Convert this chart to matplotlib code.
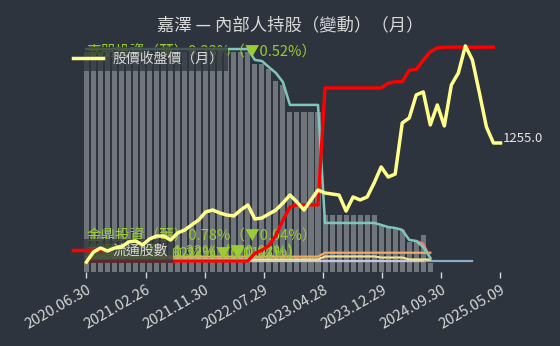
import numpy as np
import matplotlib
matplotlib.use('Agg')
import matplotlib.pyplot as plt
from matplotlib.lines import Line2D

plt.rcParams['font.family'] = ['Noto Sans CJK TC', 'DejaVu Sans']

# monthly data, index 0 = 2020.06 ... 59 = 2025.05
tick_labels = ['2020.06.30', '2021.02.26', '2021.11.30', '2022.07.29',
               '2023.04.28', '2023.12.29', '2024.09.30', '2025.05.09']

# 內部人持股合計 (%)
bar_pct = [25.25, 25.25, 25.25, 25.25, 25.25, 25.25, 25.25, 25.25, 25.25, 25.25,
           25.25, 25.25, 25.25, 25.25, 25.25, 25.25, 25.25, 25.25, 25.25, 25.25,
           25.25, 25.25, 25.25, 25.25, 24.69, 24.69, 24.46, 23.90, 23.72, 22.46,
           22.46, 22.46, 22.46, 22.46, 17.66, 17.66, 17.66, 17.66, 17.66, 17.66,
           17.66, 17.66, 17.14, 17.10, 17.05, 16.96, 16.41, 16.41, 16.72, 15.42]

# 個別內部人持股 (%)
holder_teal = [9.75, 9.75, 9.75, 9.75, 9.75, 9.75, 9.75, 9.75, 9.75, 9.75,
               9.75, 9.75, 9.75, 9.75, 9.75, 9.75, 9.75, 9.75, 9.75, 9.75,
               9.75, 9.75, 9.75, 9.75, 9.25, 9.20, 8.92, 8.65, 8.23, 7.18,
               7.18, 7.18, 7.18, 7.18, 1.75, 1.75, 1.75, 1.75, 1.75, 1.75,
               1.75, 1.75, 1.66, 1.56, 1.52, 1.43, 0.97, 0.92, 0.64, 0.14]
holder_orange = [0.20] * 34 + [0.38] * 16
holder_khaki = [0.07] * 34 + [0.21] * 8 + [0.16] * 4 + [0.07] * 4
holder_lavender = [0.01] * 49
holder_blue = [0.0] * 56
holder_salmon = [np.nan] * 47 + [0.92, 0.80, 0.14]

# 流通股數 (張)
shares = [110600] * 24 + [110700, 110740, 110800, 110930, 111130, 111300,
                          111330, 111330, 111330, 111330,
                          112850, 112850, 112850, 112850, 112850, 112850,
                          112850, 112850, 112850, 112910, 112930, 112930,
                          113080, 113090, 113210, 113320, 113370,
                          113380, 113380, 113380, 113380, 113380, 113380,
                          113380, 113380]

# 股價收盤價 (月)
price = [450, 518, 545, 525, 545, 552, 586, 593, 566, 606,
         626, 626, 599, 647, 667, 701, 735, 789, 802, 782,
         768, 762, 802, 836, 741, 748, 775, 802, 849, 903,
         856, 802, 870, 937, 917, 910, 903, 795, 890, 870,
         890, 985, 1093, 1025, 1045, 1390, 1424, 1580, 1600, 1377,
         1512, 1370, 1647, 1728, 1911, 1816, 1593, 1363, 1255, 1255]

labels_green = [
    ('嘉朋投資（董）9.23%（▼0.52%）', 9.28),
    ('金鼎投資（董）0.78%（▼0.04%）', 0.78),
    ('林佩璋（董）1.32%（▼0.02%）', 0.05),
    ('嘉澤（董）0.62%（▼0.01%）', 0.03),
    ('朱秋龍（董）0.22%（▼0.01%）', 0.01),
]

BG = '#2e343d'
TXT = '#d8d8d8'
GREEN = '#9acd32'

fig = plt.figure(figsize=(5.6, 3.46), dpi=100, facecolor=BG)
ax = fig.add_axes([75.9 / 560, 74 / 346, 435.1 / 560, 236 / 346])
ax.set_facecolor(BG)

ax.bar(np.arange(len(bar_pct)), bar_pct, width=0.72, color='#70757c', zorder=1)
ax.set_ylim(15.0, 26.0)
ax.set_xlim(-1.5, 60.5)

ax_h = ax.twinx()
ax_r = ax.twinx()
ax_p = ax.twinx()

# holder lines
ax_h.plot(np.arange(len(holder_blue)), holder_blue, color='#8eaacb', lw=1.6)
ax_h.plot(np.arange(len(holder_lavender)), holder_lavender, color='#c8c3e3', lw=1.6)
ax_h.plot(np.arange(len(holder_khaki)), holder_khaki, color='#f2e38c', lw=1.6)
ax_h.plot(np.arange(len(holder_orange)), holder_orange, color='#f0a868', lw=1.6)
ax_h.plot(np.arange(len(holder_salmon)), holder_salmon, color='#e8806e', lw=1.6)
ax_h.plot(np.arange(len(holder_teal)), holder_teal, color='#7fc6bd', lw=1.8)
for txt, val in labels_green:
    ax_h.text(0, val, txt, color=GREEN, fontsize=10.5, ha='left', va='bottom')
ax_h.set_ylim(-0.506, 10.35)

# outstanding shares
ax_r.plot(np.arange(len(shares)), shares, color='#ff0000', lw=2.4)
ax_r.set_ylim(110457, 113525)

leg1 = ax_r.legend(handles=[Line2D([], [], color='#ffff8c', lw=2.5)],
                   labels=['股價收盤價（月）'], loc='upper left',
                   bbox_to_anchor=(68 / 560, 1 - 47 / 346),
                   bbox_transform=fig.transFigure, borderaxespad=0,
                   borderpad=0.35, handlelength=2.15, handletextpad=0.7,
                   fontsize=10, labelcolor=TXT, facecolor=BG, framealpha=0.75,
                   edgecolor='none', fancybox=False)
ax_r.add_artist(leg1)
ax_r.legend(handles=[Line2D([], [], color='#ff0000', lw=2.5)],
            labels=['流通股數'], loc='lower left',
            bbox_to_anchor=(68 / 560, 1 - 263 / 346),
            bbox_transform=fig.transFigure, borderaxespad=0,
            borderpad=0.35, handlelength=2.15, handletextpad=0.7,
            fontsize=10, labelcolor=TXT, facecolor=BG, framealpha=0.75,
            edgecolor='none', fancybox=False)

# price
ax_p.plot(np.arange(len(price)), price, color='#ffff8c', lw=2.5)
ax_p.set_ylim(383, 1978)
ax_p.annotate(f'{price[-1]:.1f}', xy=(len(price) - 1, price[-1]), xytext=(1.5, 3),
              textcoords='offset points', ha='left', va='center',
              color='#e6e6e6', fontsize=9.5)

for a in (ax, ax_h, ax_r, ax_p):
    for s in a.spines.values():
        s.set_visible(False)
    a.tick_params(axis='y', left=False, right=False, labelleft=False, labelright=False)

ax.set_xticks(np.linspace(0, 59, 8))
ax.set_xticklabels(tick_labels, rotation=30, ha='right', rotation_mode='anchor',
                   fontsize=10.5, color=TXT)
ax.tick_params(axis='x', colors=TXT, length=4, width=1, pad=4)

fig.text(290 / 560, 1 - 25 / 346, '嘉澤 — 內部人持股（變動）（月）',
         ha='center', va='center', fontsize=12.5, color=TXT)

fig.savefig('out.png', dpi=100, facecolor=BG)
